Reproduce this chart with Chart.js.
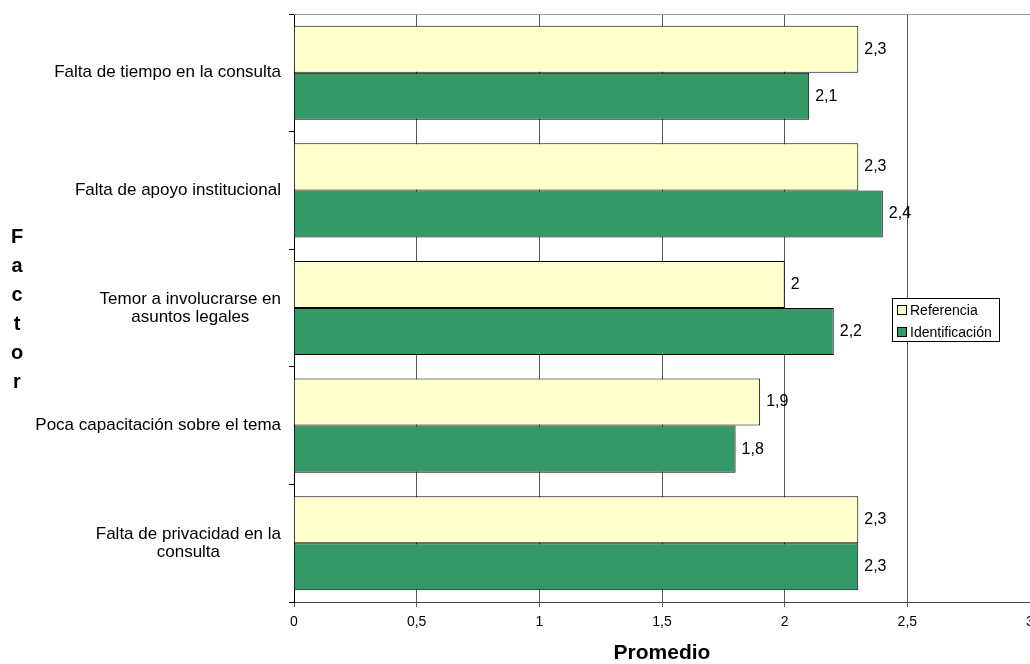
<!DOCTYPE html>
<html>
<head>
<meta charset="utf-8">
<script src="https://cdn.jsdelivr.net/npm/chart.js@4.4.1/dist/chart.umd.min.js"></script>
<style>
  html, body { margin: 0; padding: 0; background: #fff; }
  #wrap { width: 1030px; height: 664px; }
</style>
</head>
<body>
<div id="wrap"><canvas id="myChart" width="1030" height="664"></canvas></div>
<script>
var factores = [
    ['Falta de tiempo en la consulta'],
    ['Falta de apoyo institucional'],
    ['Temor a involucrarse en', 'asuntos legales'],
    ['Poca capacitación sobre el tema'],
    ['Falta de privacidad en la', 'consulta']
];
var referencia = [2.3, 2.3, 2, 1.9, 2.3];
var identificacion = [2.1, 2.4, 2.2, 1.8, 2.3];
var ejeMin = 0, ejeMax = 3, ejePaso = 0.5;
var tituloX = 'Promedio';
var tituloY = 'Factor';

var fuente = '"Liberation Sans", Arial, sans-serif';

function coma(v) {
    return String(v).replace('.', ',');
}

// valores al final de cada barra, nombres de factor, letras del eje y leyenda
var extras = {
    id: 'extras',
    afterDatasetsDraw: function(chart) {
        var ctx = chart.ctx;
        ctx.save();
        ctx.font = '16px ' + fuente;
        ctx.fillStyle = '#000';
        ctx.textAlign = 'left';
        ctx.textBaseline = 'middle';
        chart.data.datasets.forEach(function(ds, i) {
            chart.getDatasetMeta(i).data.forEach(function(bar, j) {
                ctx.fillText(coma(ds.data[j]), bar.x + 6, bar.y);
            });
        });
        ctx.restore();
    },
    afterDraw: function(chart) {
        var ctx = chart.ctx;
        var area = chart.chartArea;
        var y = chart.scales.y;
        ctx.save();

        // borde superior del area
        ctx.strokeStyle = '#9a9a9a';
        ctx.lineWidth = 1;
        ctx.beginPath();
        ctx.moveTo(area.left, Math.round(area.top) + 0.5);
        ctx.lineTo(area.right, Math.round(area.top) + 0.5);
        ctx.stroke();

        // nombres de factor: bloque pegado al eje, lineas centradas
        ctx.font = '17px ' + fuente;
        ctx.fillStyle = '#000';
        ctx.textAlign = 'center';
        ctx.textBaseline = 'middle';
        var derecha = y.right - 13;
        var alto = 18;
        factores.forEach(function(lineas, i) {
            var cy = y.getPixelForTick(i);
            var ancho = 0;
            lineas.forEach(function(l) { ancho = Math.max(ancho, ctx.measureText(l).width); });
            var cx = derecha - ancho / 2;
            var y0 = cy - (lineas.length - 1) * alto / 2;
            lineas.forEach(function(l, k) { ctx.fillText(l, cx, y0 + k * alto); });
        });

        // titulo vertical, letra por letra
        ctx.font = 'bold 20px ' + fuente;
        tituloY.split('').forEach(function(c, k) {
            ctx.fillText(c, 17, 237 + k * 29);
        });

        // leyenda
        var lx = 892, ly = 298, lw = 107, lh = 43;
        ctx.fillStyle = '#fff';
        ctx.fillRect(lx, ly, lw, lh);
        ctx.strokeStyle = '#000';
        ctx.strokeRect(lx + 0.5, ly + 0.5, lw, lh);
        ctx.font = '14px ' + fuente;
        ctx.textAlign = 'left';
        chart.data.datasets.forEach(function(ds, i) {
            var iy = ly + 12 + i * 22;
            ctx.fillStyle = ds.backgroundColor;
            ctx.fillRect(lx + 5, iy - 4, 9, 9);
            ctx.strokeStyle = '#000';
            ctx.strokeRect(lx + 5.5, iy - 4.5, 9, 9);
            ctx.fillStyle = '#000';
            ctx.fillText(ds.label, lx + 18, iy + 1);
        });
        ctx.restore();
    }
};

var ctx = document.getElementById('myChart');
var myChart = new Chart(ctx, {
    type: 'bar',
    data: {
        labels: factores,
        datasets: [{
            label: 'Referencia',
            data: referencia,
            backgroundColor: '#FFFFCC',
            borderColor: '#000',
            borderWidth: 1,
        }, {
            label: 'Identificación',
            data: identificacion,
            backgroundColor: '#339966',
            borderColor: '#000',
            borderWidth: 1,
        }],
    },
    options: {
        indexAxis: 'y',
        responsive: false,
        animation: false,
        categoryPercentage: 0.8,
        barPercentage: 1,
        layout: { padding: { top: 14, right: 0, left: 0, bottom: 0 } },
        plugins: {
            legend: { display: false },
            tooltip: { enabled: false },
        },
        scales: {
            x: {
                min: ejeMin,
                max: ejeMax,
                ticks: {
                    stepSize: ejePaso,
                    padding: 7,
                    color: '#000',
                    font: { family: fuente, size: 14 },
                    maxRotation: 0,
                    callback: function(v) { return coma(v); },
                },
                grid: { color: '#555', tickLength: 5, lineWidth: 1 },
                border: { color: '#444', width: 1 },
                title: {
                    display: true,
                    text: tituloX,
                    color: '#000',
                    font: { family: fuente, size: 21, weight: 'bold', lineHeight: 1 },
                    padding: { top: 0, bottom: 0 },
                },
                afterFit: function(scale) {
                    scale.height = 62;
                    scale.paddingLeft = 0;
                    scale.paddingRight = 0;
                },
            },
            y: {
                offset: true,
                ticks: { display: false },
                grid: { drawOnChartArea: false, color: '#000', tickLength: 5, offset: true },
                border: { color: '#000', width: 1 },
                afterFit: function(scale) {
                    scale.width = 294;
                    scale.paddingTop = 0;
                    scale.paddingBottom = 0;
                },
            },
        },
    },
    plugins: [extras],
});
</script>
</body>
</html>
